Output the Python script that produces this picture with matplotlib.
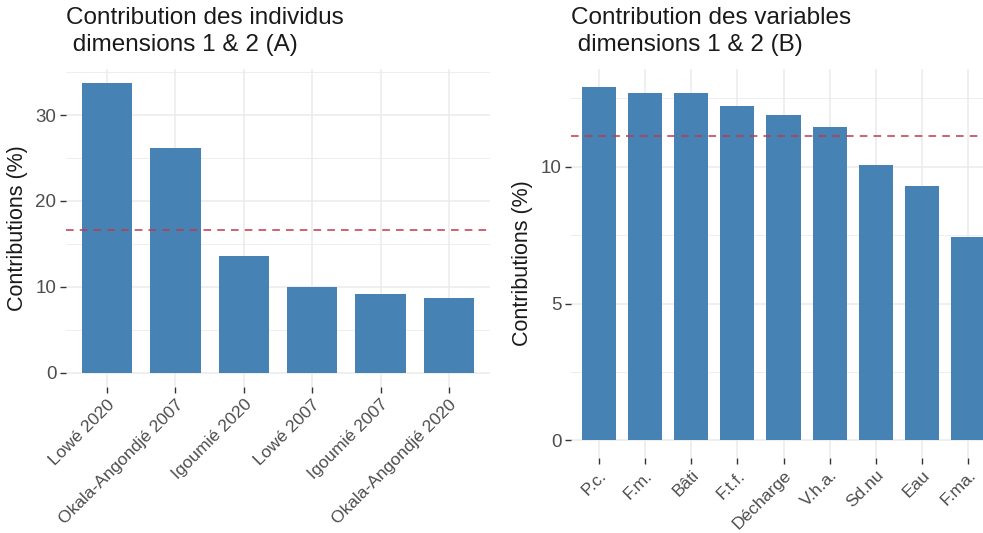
import matplotlib
matplotlib.use("Agg")
import matplotlib.pyplot as plt
import numpy as np

plt.rcParams['font.family'] = ['Liberation Sans', 'DejaVu Sans']

# individus (A)
ind_labels = ['Lowé 2020', 'Okala-Angondjé 2007', 'Igoumié 2020', 'Lowé 2007',
              'Igoumié 2007', 'Okala-Angondjé 2020']
ind_contrib = [33.7, 26.2, 13.6, 9.95, 9.2, 8.7]

# variables (B)
var_labels = ['P.c.', 'F.m.', 'Bâti', 'F.t.f.', 'Décharge', 'V.h.a.', 'Sd.nu', 'Eau', 'F.ma.']
var_contrib = [12.93, 12.71, 12.71, 12.23, 11.88, 11.46, 10.07, 9.30, 7.43]

BAR = '#4682B4'
GRID = '#EBEBEB'
TXT = '#4D4D4D'

W, H = 983, 533
fig = plt.figure(figsize=(W / 100, H / 100), dpi=100)


def panel(rect, labels, values, major, minor, title, title_x):
    ax = fig.add_axes(rect)
    x = np.arange(len(values))
    n = len(values)
    ymax = max(values)
    ax.set_xlim(-0.6, n - 1 + 0.6)
    ax.set_ylim(-0.05 * ymax, 1.05 * ymax)

    # grille facon theme_minimal
    for m in minor:
        ax.axhline(m, color=GRID, lw=0.6, zorder=0)
    for m in major:
        ax.axhline(m, color=GRID, lw=1.1, zorder=0)
    for xi in x:
        ax.axvline(xi, color=GRID, lw=1.1, zorder=0)

    ax.bar(x, values, width=0.74, color=BAR, zorder=2)
    ax.axhline(100.0 / n, color='#C0394B', lw=1.1, ls=(0, (5, 4)), zorder=3)

    for s in ax.spines.values():
        s.set_visible(False)
    ax.set_yticks(major)
    ax.set_yticklabels([str(m) for m in major])
    ax.set_xticks(x)
    ax.set_xticklabels(labels, rotation=45, ha='right', va='top',
                       rotation_mode='anchor')
    ax.tick_params(axis='both', colors='#333333', labelcolor=TXT,
                   length=4, width=1)
    ax.tick_params(axis='x', pad=3, labelsize=12.6)
    ax.tick_params(axis='y', pad=3, labelsize=13.5)
    ax.set_ylabel('Contributions (%)', fontsize=15.5, color='#1A1A1A', labelpad=5)

    fig.text(title_x, 1 - 7 / H, title, fontsize=17.5, color='#1A1A1A',
             ha='left', va='top', linespacing=1.27)
    return ax


# panneau A
panel([66 / W, 1 - 387 / H, (490 - 66) / W, (387 - 69) / H],
      ind_labels, ind_contrib, [0, 10, 20, 30], [5, 15, 25, 35],
      'Contribution des individus\n dimensions 1 & 2 (A)', 66 / W)

# panneau B (coupé à droite comme sur l'original)
panel([571 / W, 1 - 458 / H, (996 - 571) / W, (458 - 69) / H],
      var_labels, var_contrib, [0, 5, 10], [2.5, 7.5, 12.5],
      'Contribution des variables\n dimensions 1 & 2 (B)', 571 / W)

fig.savefig('out.png', dpi=100, facecolor='white')
